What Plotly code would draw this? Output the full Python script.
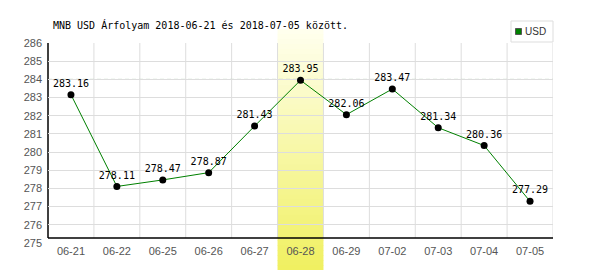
import plotly.graph_objects as go

# ---- data ----
dates = ["06-21", "06-22", "06-25", "06-26", "06-27", "06-28",
         "06-29", "07-02", "07-03", "07-04", "07-05"]
rates = [283.16, 278.11, 278.47, 278.87, 281.43, 283.95,
         282.06, 283.47, 281.34, 280.36, 277.29]
y_ticks = list(range(275, 287))
ref_level = 284
highlight_date = "06-28"
series_name = "USD"
title_text = "MNB USD Árfolyam 2018-06-21 és 2018-07-05 között."

# ---- layout geometry ----
W, H = 600, 270
L, R, T, B = 48, 47, 43, 27
pw, ph = W - L - R, H - T - B


def py2paper(py):
    return (H - B - py) / ph


def px2paper(px):
    return (px - L) / pw


labels = [f"{v:.2f}" for v in rates]

fig = go.Figure()
fig.add_trace(go.Scatter(
    x=dates, y=rates, mode="lines+markers+text",
    name=series_name,
    line=dict(color="#008000", width=1),
    marker=dict(color="black", size=7),
    text=labels, textposition="top center",
    textfont=dict(family="DejaVu Sans Mono", size=10, color="black"),
    cliponaxis=False, showlegend=False,
))

shapes = []

# highlight band with vertical gradient (stacked strips)
hi = dates.index(highlight_date)
top_px, bot_px = 29, 270
n = 48
c_top = (255, 255, 238)
c_bot = (240, 240, 96)
for k in range(n):
    t = (k + 0.5) / n
    col = tuple(round(c_top[j] + (c_bot[j] - c_top[j]) * t) for j in range(3))
    y0p = top_px + (bot_px - top_px) * k / n
    y1p = top_px + (bot_px - top_px) * (k + 1) / n + 0.6
    shapes.append(dict(type="rect", xref="x", yref="paper",
                       x0=hi - 0.5, x1=hi + 0.5,
                       y0=py2paper(y1p), y1=py2paper(y0p),
                       fillcolor=f"rgb{col}", line=dict(width=0),
                       layer="between"))

# vertical grid lines (category boundaries)
axis_y = py2paper(238)
for i in range(1, len(dates) + 1):
    shapes.append(dict(type="line", xref="x", yref="paper",
                       x0=i - 0.5, x1=i - 0.5, y0=axis_y, y1=1,
                       line=dict(color="#dddddd", width=1), layer="below"))

# reference dashed line
shapes.append(dict(type="line", xref="paper", yref="y", x0=0, x1=1,
                   y0=ref_level, y1=ref_level,
                   line=dict(color="#a8c8a8", width=1, dash="4px,3px"),
                   layer="between"))

# axis lines
shapes.append(dict(type="line", xref="paper", yref="paper", x0=0, x1=1,
                   y0=axis_y, y1=axis_y, line=dict(color="black", width=1.5),
                   layer="between"))
shapes.append(dict(type="line", xref="paper", yref="paper", x0=0, x1=0,
                   y0=axis_y, y1=1, line=dict(color="black", width=1.5),
                   layer="between"))

# manual legend
shapes.append(dict(type="rect", xref="paper", yref="paper",
                   x0=px2paper(511), x1=px2paper(553),
                   y0=py2paper(42), y1=py2paper(21),
                   line=dict(color="#dddddd", width=1), fillcolor="white"))
shapes.append(dict(type="rect", xref="paper", yref="paper",
                   x0=px2paper(515.5), x1=px2paper(521.5),
                   y0=py2paper(34.5), y1=py2paper(28.5),
                   line=dict(color="#555555", width=1), fillcolor="#008000"))

annotations = [dict(xref="paper", yref="paper", x=px2paper(523), y=py2paper(31.5),
                    text=series_name, showarrow=False, xanchor="left", yanchor="middle",
                    font=dict(family="Liberation Sans", size=10, color="#333333"))]

fig.update_layout(
    width=W, height=H,
    margin=dict(l=L, r=R, t=T, b=B, pad=0),
    paper_bgcolor="white", plot_bgcolor="white",
    title=dict(text=title_text, x=53 / W, xanchor="left", xref="container",
               y=1 - 25 / H, yanchor="middle", yref="container",
               font=dict(family="DejaVu Sans Mono", size=10, color="black")),
    xaxis=dict(type="category", categoryorder="array", categoryarray=dates,
               range=[-0.5, len(dates) - 0.5], showgrid=False, showline=False,
               zeroline=False, ticks="", fixedrange=True,
               tickfont=dict(family="Liberation Sans", size=11, color="#555555")),
    yaxis=dict(range=[y_ticks[0], y_ticks[-1]], tickvals=y_ticks,
               showgrid=True, gridcolor="#dddddd", gridwidth=1,
               showline=False, zeroline=False, ticks="",
               ticklabelstandoff=5,
               tickfont=dict(family="Liberation Sans", size=11, color="#555555")),
    shapes=shapes, annotations=annotations, showlegend=False,
)

fig.write_html("out.html")
